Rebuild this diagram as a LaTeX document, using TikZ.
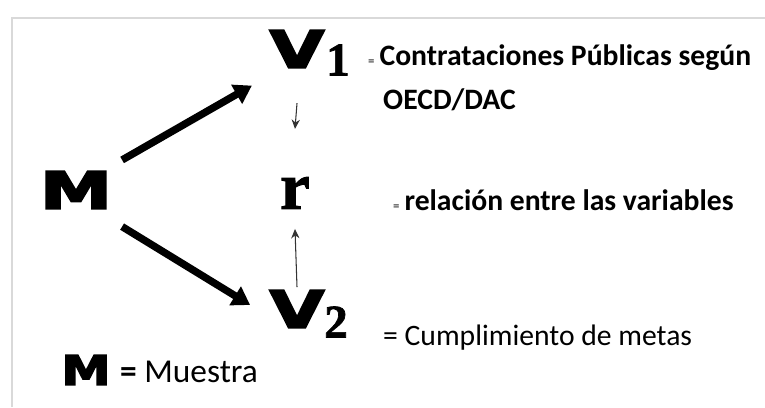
\documentclass[tikz,border=0pt]{standalone}
\usepackage{fontspec}
\usepackage{tikz}
\usetikzlibrary{arrows.meta}
\newfontfamily\calibri{Carlito}
\newfontfamily\heavyfont[FakeBold=3.5]{DejaVu Sans Bold}
\newfontfamily\serifbf[FakeBold=1.5]{Liberation Serif Bold}

\begin{document}
\begin{tikzpicture}[x=0.03cm,y=-0.03cm,>=stealth,
  bigletter/.style={inner sep=0pt,font=\heavyfont\fontsize{44}{44}\selectfont},
  subdigit/.style={inner sep=0pt,font=\serifbf\fontsize{40}{40}\selectfont},
  caption/.style={inner sep=0pt,anchor=west,font=\calibri\fontsize{25.3}{30}\selectfont},
  thickarrow/.style={-{Triangle[length=15pt,width=18pt]},line width=6.3pt},
  thinarrow/.style={-{Stealth[length=8pt,width=7pt]},line width=0.9pt,black!80}]
\useasboundingbox (0,0) rectangle (765,407);
\draw[black!15,line width=1.5pt] (12,407) -- (12,18) -- (765,18);
% letters
\node[bigletter] (M) at (76,190) {\scalebox{1.4}[1]{M}};
\node[bigletter] (V1) at (297,49) {\scalebox{1.37}[1]{V}};
\node[subdigit] (n1) at (338,60) {1};
\node[inner sep=0pt,font=\serifbf\fontsize{57}{57}\selectfont] (r) at (295,193) {r};
\node[bigletter] (V2) at (297,309) {\scalebox{1.37}[1]{V}};
\node[subdigit] (n2) at (336,322) {2};
% texts
\node[caption] (t1) at (368,58) {{\fontsize{11}{12}\selectfont =}\,\bfseries Contrataciones Públicas según};
\node[caption] (t1b) at (383,100) {\bfseries OECD/DAC};
\node[caption] (t2) at (393,200) {{\fontsize{11}{12}\selectfont =}\,\bfseries relación entre las variables};
\node[caption] (t3) at (383,338) {= Cumplimiento de metas};
\node[bigletter,font=\heavyfont\fontsize{35}{35}\selectfont] (M2) at (86,370) {\scalebox{1.2}[1]{M}};
\node[caption,font=\calibri\fontsize{28.5}{32}\selectfont] (t4) at (120,372) {\textbf{=} Muestra};
% arrows
\draw[thickarrow] ([xshift=8.5pt,yshift=9.4pt]M.north east) -- ([xshift=-15pt,yshift=-15pt]V1.south west);
\draw[thickarrow] ([xshift=8.5pt,yshift=-15pt]M.south east) -- ([xshift=-16.5pt,yshift=-12.8pt]V2.north west);
\draw[thinarrow] ([yshift=-30pt]V1.south) -- ([yshift=41pt]r.north);
\draw[thinarrow] ([yshift=2.5pt]V2.north) -- ([yshift=-17pt]r.south);
\end{tikzpicture}
\end{document}
